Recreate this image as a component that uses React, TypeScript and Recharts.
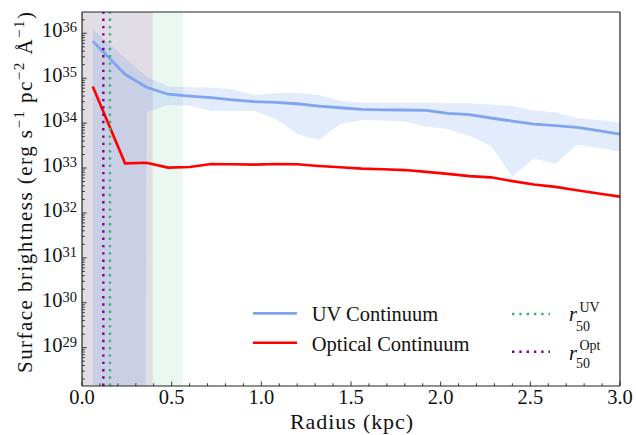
import React from "react";
import {
  ComposedChart, Line, Area, XAxis, YAxis, ReferenceArea, ReferenceLine,
} from "recharts";

// radius bins (kpc)
const RADIUS = [0.06, 0.24, 0.36, 0.48, 0.6, 0.72, 0.84, 0.96, 1.08, 1.2, 1.32, 1.44, 1.56, 1.68, 1.8, 1.92, 2.04, 2.16, 2.28, 2.4, 2.52, 2.64, 2.76, 2.88, 3.0];

// UV continuum surface brightness + 1-sigma band
const UV = [6.7e35, 1.22e35, 6.3e34, 4.4e34, 4.0e34, 3.7e34, 3.3e34, 3.0e34, 2.9e34, 2.7e34, 2.4e34, 2.2e34, 2.03e34, 1.98e34, 1.96e34, 1.93e34, 1.64e34, 1.54e34, 1.3e34, 1.11e34, 9.5e33, 8.8e33, 8.0e33, 6.8e33, 5.7e33];
const UV_HI = [1.25e36, 2.8e35, 1.08e35, 6.5e34, 6.3e34, 6.2e34, 5.7e34, 4.2e34, 4.6e34, 4.75e34, 4.2e34, 3.15e34, 2.85e34, 2.85e34, 2.85e34, 2.85e34, 2.76e34, 2.76e34, 2.6e34, 2.4e34, 1.91e34, 1.74e34, 1.3e34, 1.17e34, 1.02e34];
// first two lower bounds are non-positive (off the log axis)
const UV_LO = [1e-100, 1e-100, 1.74e34, 2.53e34, 2.44e34, 1.86e34, 1.86e34, 1.89e34, 1.24e34, 5.7e33, 4.2e33, 9.5e33, 1.17e34, 1.14e34, 1.08e34, 8.3e33, 7.4e33, 5.2e33, 3.1e33, 6.5e32, 1.65e33, 1.23e33, 3.3e33, 2.84e33, 2.3e33];

// optical continuum
const OPT = [6.5e34, 1.27e33, 1.31e33, 1.02e33, 1.05e33, 1.23e33, 1.21e33, 1.19e33, 1.23e33, 1.21e33, 1.11e33, 1.04e33, 9.7e32, 9.4e32, 9.0e32, 8.2e32, 7.4e32, 6.6e32, 6.2e32, 5.1e32, 4.3e32, 3.8e32, 3.2e32, 2.7e32, 2.3e32];

// half-light radii and shaded spans (kpc)
const R50_UV = 0.156;
const R50_OPT = 0.119;
const SPAN_GREEN = [0, 0.562];
const SPAN_PURPLE = [0, 0.394];

const X_MAJOR = [0, 0.5, 1.0, 1.5, 2.0, 2.5, 3.0];
const X_MINOR = [0.1, 0.2, 0.3, 0.4, 0.6, 0.7, 0.8, 0.9, 1.1, 1.2, 1.3, 1.4, 1.6, 1.7, 1.8, 1.9, 2.1, 2.2, 2.3, 2.4, 2.6, 2.7, 2.8, 2.9];
const Y_EXPONENTS = [29, 30, 31, 32, 33, 34, 35, 36];
const Y_DOMAIN = [1.4e28, 2.98e36];

const UV_COLOR = "#7fa4f0";
const OPT_COLOR = "#ff0000";
const GREEN = "#3cb371";
const PURPLE = "#800080";
const FONT = "'Liberation Serif', 'Times New Roman', serif";
const AXIS_STROKE = { stroke: "#222", strokeWidth: 1.2 };

const data = RADIUS.map((r, i) => ({
  r,
  uv: UV[i],
  opt: OPT[i],
  band: [UV_LO[i], UV_HI[i]],
}));

const Y_MAJOR = Y_EXPONENTS.map((e) => Math.pow(10, e));
const Y_MINOR: number[] = [];
for (let e = 28; e <= 36; e++) {
  for (let k = 2; k <= 9; k++) {
    const v = k * Math.pow(10, e);
    if (v >= Y_DOMAIN[0] && v <= Y_DOMAIN[1]) Y_MINOR.push(v);
  }
}
const Y_TICKS = [...Y_MAJOR, ...Y_MINOR].sort((a, b) => a - b);
const X_TICKS = [...X_MAJOR, ...X_MINOR].sort((a, b) => a - b);

const W = 636;
const H = 435;
// plot area: x 82..620, y 12..386
const M = { top: 11, right: 15, bottom: 19, left: 22 };

function XTick(props: any) {
  const { x, y, payload } = props;
  const v = payload.value as number;
  const major = X_MAJOR.some((m) => Math.abs(m - v) < 1e-9);
  return (
    <g>
      <line x1={x} x2={x} y1={y} y2={y - (major ? 4.5 : 2.7)} stroke="#333" strokeWidth={1} />
      {major && (
        <text x={x} y={y + 18} textAnchor="middle" fontFamily={FONT} fontSize={20.5} fill="#111">
          {v.toFixed(1)}
        </text>
      )}
    </g>
  );
}

function YTick(props: any) {
  const { x, y, payload } = props;
  const v = payload.value as number;
  const exp = Math.round(Math.log10(v));
  const major = Y_MAJOR.some((m) => Math.abs(Math.log10(m) - Math.log10(v)) < 1e-6);
  return (
    <g>
      <line x1={x} x2={x + (major ? 4.7 : 2.8)} y1={y} y2={y} stroke="#333" strokeWidth={1} />
      {major && (
        <text x={x - 5} y={y + 4} textAnchor="end" fontFamily={FONT} fontSize={20.5} fill="#111">
          10<tspan fontSize={14.5} dy={-5}>{exp}</tspan>
        </text>
      )}
    </g>
  );
}

function RLabel({ x, y, sup, supDy, subDy }: { x: number; y: number; sup: string; supDy: number; subDy: number }) {
  // r_50^{sup} as one text element
  return (
    <text x={x} y={y} fontSize={20.5}>
      <tspan fontStyle="italic">r</tspan>
      <tspan fontSize={14} x={x + 10.5} y={y - supDy}>{sup}</tspan>
      <tspan fontSize={14} x={x + 7} y={y + subDy}>50</tspan>
    </text>
  );
}

export default function App() {
  return (
    <div style={{ position: "absolute", left: 0, top: 0, width: W, height: H, background: "#fff" }}>
      <ComposedChart width={W} height={H} data={data} margin={M}>
        <ReferenceArea x1={SPAN_GREEN[0]} x2={SPAN_GREEN[1]} fill={GREEN} fillOpacity={0.1} stroke="none" />
        <ReferenceArea x1={SPAN_PURPLE[0]} x2={SPAN_PURPLE[1]} fill={PURPLE} fillOpacity={0.1} stroke="none" />
        <XAxis
          dataKey="r" type="number" domain={[0, 3]} ticks={X_TICKS} interval={0}
          height={30} tickSize={0} tickMargin={0} tickLine={false}
          axisLine={AXIS_STROKE} tick={<XTick />}
          allowDataOverflow
        />
        <XAxis xAxisId="top" orientation="top" type="number" domain={[0, 3]} height={1}
          tick={false} tickLine={false} axisLine={AXIS_STROKE} />
        <YAxis
          type="number" scale="log" domain={Y_DOMAIN} ticks={Y_TICKS} interval={0}
          width={60} tickSize={0} tickMargin={0} tickLine={false}
          axisLine={AXIS_STROKE} tick={<YTick />}
          allowDataOverflow
        />
        <YAxis yAxisId="right" orientation="right" width={1} tick={false} tickLine={false}
          axisLine={AXIS_STROKE} />
        <Area dataKey="band" type="linear" stroke="none" fill="#6495ed" fillOpacity={0.18} isAnimationActive={false} />
        <Line dataKey="uv" type="linear" stroke={UV_COLOR} strokeWidth={2.8} dot={false} isAnimationActive={false} />
        <Line dataKey="opt" type="linear" stroke={OPT_COLOR} strokeWidth={2.6} dot={false} isAnimationActive={false} />
        <ReferenceLine x={R50_UV} stroke={GREEN} strokeWidth={2.4} strokeDasharray="2.4 4.9" />
        <ReferenceLine x={R50_OPT} stroke={PURPLE} strokeWidth={2.4} strokeDasharray="2.4 4.9" />
      </ComposedChart>

      <svg width={W} height={H} style={{ position: "absolute", left: 0, top: 0, pointerEvents: "none" }}>
        <g fontFamily={FONT} fill="#111">
          <text x={351.5} y={429} textAnchor="middle" fontSize={22} textLength={123}>Radius (kpc)</text>
          <text x={32} y={373} fontSize={21} transform="rotate(-90 32 373)" textLength={361}>
            Surface brightness (erg s<tspan fontSize={15} dy={-8}>−1</tspan>
            <tspan dy={8}> pc</tspan><tspan fontSize={15} dy={-8}>−2</tspan>
            <tspan dy={8}> Å</tspan><tspan fontSize={15} dy={-8}>−1</tspan>
            <tspan dy={8}>)</tspan>
          </text>

          <line x1={253} x2={297} y1={313.3} y2={313.3} stroke={UV_COLOR} strokeWidth={2.8} />
          <text x={311.7} y={320.7} fontSize={20.5}>UV Continuum</text>
          <line x1={253} x2={297} y1={342.7} y2={342.7} stroke={OPT_COLOR} strokeWidth={2.6} />
          <text x={311.7} y={350.5} fontSize={20.5}>Optical Continuum</text>

          <line x1={512} x2={550} y1={314} y2={314} stroke={GREEN} strokeWidth={2.4} strokeDasharray="2.4 4.9" />
          <RLabel x={569} y={320.7} sup="UV" supDy={8.4} subDy={10} />

          <line x1={512} x2={550} y1={351.7} y2={351.7} stroke={PURPLE} strokeWidth={2.4} strokeDasharray="2.4 4.9" />
          <RLabel x={569} y={360} sup="Opt" supDy={10.5} subDy={8} />
        </g>
      </svg>
    </div>
  );
}
